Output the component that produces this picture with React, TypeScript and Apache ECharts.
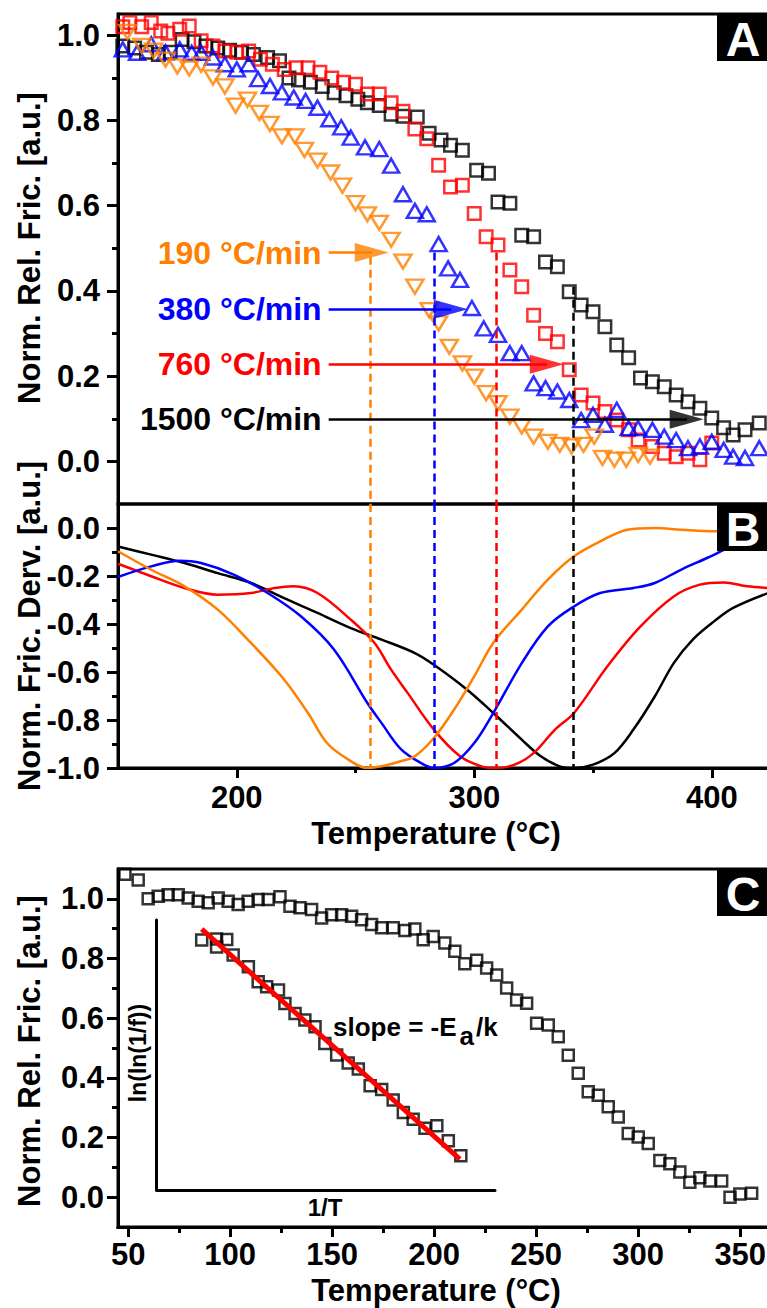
import React, { useEffect, useRef } from "react";
import * as echarts from "echarts";

const FONT = '"Liberation Sans", Arial, Helvetica, sans-serif';

// ---------- Panel A: normalized relative friction vs temperature ----------
const tA1500 = [152,157,162,167,172,177,182,187,192,197,202,207,213,218,222,226,231,236,241,246,251,255,260,265,270,276,281,286,290,295,301,306,310,315,320,325,330,335,340,345,350,355,360,365,370,375,380,385,390,395,400,405,409,414,420];
const vA1500 = [0.975,0.97,0.96,0.955,0.96,0.99,0.985,0.975,0.97,0.965,0.96,0.955,0.948,0.94,0.9,0.895,0.89,0.88,0.865,0.858,0.85,0.842,0.835,0.815,0.81,0.808,0.77,0.754,0.742,0.73,0.683,0.676,0.609,0.606,0.531,0.527,0.468,0.457,0.398,0.367,0.351,0.316,0.273,0.243,0.196,0.187,0.175,0.156,0.14,0.125,0.102,0.079,0.062,0.074,0.09];

const tA760 = [152,155,160,164,168,171,176,180,185,190,195,200,205,210,215,220,225,230,235,240,245,250,255,260,265,270,275,280,285,290,295,300,305,310,315,320,325,330,335,340,345,350,355,360,365,369,375,380,385,390,395,400];
const vA760 = [1.02,1.03,1.02,1.03,1.01,1.005,1.014,1.022,0.987,0.975,0.963,0.96,0.963,0.944,0.932,0.92,0.924,0.924,0.913,0.9,0.89,0.885,0.862,0.862,0.842,0.822,0.78,0.757,0.695,0.644,0.648,0.582,0.527,0.508,0.449,0.41,0.343,0.3,0.281,0.215,0.156,0.137,0.117,0.097,0.074,0.05,0.035,0.019,0.011,0.019,0.004,0.043];

const tA380 = [152,158,164,170,176,181,185,190,195,200,205,209,214,219,224,229,234,239,244,248,254,260,265,270,275,280,285,289,294,299,304,310,315,320,325,330,335,340,345,350,355,360,365,369,375,380,385,390,395,400,405,409,414,420];
const vA380 = [0.967,0.959,0.979,0.96,0.967,0.959,0.959,0.948,0.932,0.92,0.932,0.897,0.881,0.866,0.854,0.846,0.83,0.803,0.784,0.76,0.737,0.733,0.694,0.627,0.588,0.58,0.51,0.453,0.426,0.36,0.312,0.297,0.254,0.254,0.183,0.172,0.164,0.144,0.097,0.109,0.086,0.121,0.078,0.078,0.074,0.058,0.05,0.031,0.035,0.046,0.027,0.011,0.008,0.031];

const tA190 = [154,160,165,170,175,180,185,190,195,199.5,204.5,209.5,214,219,224.5,228.5,234,239.5,244.5,250,255,260,265,270,275,281,285,289.5,295,300,305,310,315,320,325,331,336,341,346,350.5,354,359,364,369,374];
const vA190 = [1.008,0.975,0.964,0.943,0.927,0.922,0.931,0.901,0.88,0.835,0.849,0.818,0.792,0.763,0.763,0.731,0.706,0.678,0.647,0.606,0.58,0.56,0.52,0.469,0.41,0.355,0.324,0.269,0.23,0.199,0.16,0.137,0.105,0.082,0.058,0.046,0.039,0.035,0.039,0.058,0.008,0.004,0.004,0.015,0.011];

// annotations (rates, arrows, dashed markers of the derivative minima)
const rateLabels = ["190 °C/min", "380 °C/min", "760 °C/min", "1500 °C/min"];
const rateColors = ["#FF8000", "#0000FF", "#FF0000", "#000000"];
const arrowStartT = 238.7;
const arrowTipT = [264, 297.3, 337.7, 396.6];
const arrowV = [0.49, 0.357, 0.228, 0.099];
const dashT = [256.1, 283.1, 309.2, 341.8];
const dashTopA = [0.48, 0.49, 0.49, 0.41];

// ---------- Panel B: normalized friction derivative ----------
const tB190 = [150,164,178,192,206,220,230,238,247,255,261,269,275,283,291.5,300,308,320,331,342,353,364.5,376,387,401,410];
const vB190 = [-0.097,-0.174,-0.243,-0.34,-0.479,-0.632,-0.771,-0.896,-0.965,-1.0,-0.993,-0.972,-0.951,-0.875,-0.757,-0.618,-0.479,-0.34,-0.215,-0.118,-0.056,-0.007,0.0,-0.007,-0.014,-0.014];
const tB380 = [150,164,176,185,199,213,227,241,255,261,269,277.5,283,291.5,300,308,320,331,342,353,367,376,387,398,407,424];
const vB380 = [-0.204,-0.16,-0.136,-0.146,-0.195,-0.271,-0.368,-0.507,-0.729,-0.813,-0.92,-0.979,-1.0,-0.979,-0.896,-0.771,-0.563,-0.41,-0.327,-0.271,-0.25,-0.229,-0.174,-0.125,-0.083,-0.01];
const tB760 = [150,164,178,192,206,216,224,234,248,258,265,272,283,294,303,309,317,325,334,342,356,370,384,395,405,415,424];
const vB760 = [-0.149,-0.201,-0.25,-0.278,-0.271,-0.25,-0.243,-0.271,-0.382,-0.479,-0.59,-0.688,-0.84,-0.951,-0.993,-1.0,-0.986,-0.938,-0.84,-0.771,-0.577,-0.41,-0.285,-0.236,-0.227,-0.243,-0.25];
const tB1500 = [150,164,178,192,206,220,234,248,261,275,283,297,308,320,328,336,342,350,359,367,376,384,392,401,409,424];
const vB1500 = [-0.077,-0.111,-0.146,-0.188,-0.229,-0.292,-0.354,-0.417,-0.465,-0.521,-0.57,-0.674,-0.771,-0.882,-0.951,-0.993,-1.0,-0.986,-0.938,-0.84,-0.702,-0.563,-0.465,-0.389,-0.333,-0.27];

// ---------- Panel C ----------
const tC = [48.4,54.9,59.8,64.7,69.6,74.5,79.4,84.3,89.2,94.1,99,103.9,108.8,113.7,118.6,124.4,129.3,134.2,139.9,144.8,149.7,154.6,159.5,164.4,169.3,174.2,179.9,185.6,190.5,194.6,199.5,205.2,210.1,215,220.8,225.7,230.6,235.5,240.4,245.3,250.2,255.9,260.8,265.7,270.6,275.5,280.4,285.3,290.2,295.1,300,304.9,310.6,315.5,320.4,325.3,330.2,335.1,340.9,345,349.8,355.6];
const vC = [1.082,1.063,1.0,1.009,1.014,1.014,1.003,0.992,0.987,1.003,0.992,0.981,0.992,0.998,0.998,1.007,0.975,0.97,0.964,0.936,0.947,0.947,0.942,0.93,0.914,0.903,0.903,0.894,0.899,0.863,0.874,0.852,0.824,0.782,0.794,0.768,0.745,0.701,0.661,0.65,0.583,0.577,0.538,0.476,0.415,0.353,0.342,0.303,0.269,0.213,0.202,0.18,0.123,0.112,0.084,0.05,0.065,0.054,0.054,0.0,0.011,0.013];

// inset (arbitrary units: 1/T vs ln(ln(1/f)))
const xInset = [1.33,1.77,2.07,1.77,2.26,2.71,3.0,3.25,3.6,3.79,4.09,4.38,4.68,4.97,5.32,5.66,5.96,6.31,6.65,6.99,7.29,7.58,7.93,8.28,8.62,8.99];
const yInset = [9.26,9.3,9.28,9.0,8.7,8.27,7.71,7.53,7.41,6.91,6.54,6.3,6.05,5.43,5.0,4.7,4.48,3.86,3.72,3.33,2.87,2.62,2.29,2.38,1.82,1.27];
const fitX = [1.33, 8.96];
const fitY = [9.66, 1.14];

// ---------- ticks ----------
const xMajorAB = [200, 300, 400];
const xMinorAB = [250, 350];
const yMajorA = [0, 0.2, 0.4, 0.6, 0.8, 1.0];
const yMinorA = [0.1, 0.3, 0.5, 0.7, 0.9];
const yMajorB = [-1.0, -0.8, -0.6, -0.4, -0.2, 0.0];
const yMinorB = [-0.9, -0.7, -0.5, -0.3, -0.1];
const xMajorC = [50, 100, 150, 200, 250, 300, 350];
const xMinorC = [75, 125, 175, 225, 275, 325];
const yMajorC = [0, 0.2, 0.4, 0.6, 0.8, 1.0];
const yMinorC = [0.1, 0.3, 0.5, 0.7, 0.9];

const zip = (xs: number[], ys: number[]) => xs.map((x, i) => [x, ys[i]]);

export default function App() {
  const ref = useRef<HTMLDivElement>(null);

  useEffect(() => {
    const chart = echarts.init(ref.current!, null, { renderer: "svg" });

    const labelStyle = { fontFamily: FONT, fontSize: 31, fontWeight: "bold" as const, color: "#000" };
    const fmtY = (v: number) => v.toFixed(1);
    const fmtX = (v: number) => String(Math.round(v));

    const tickAxis = (
      gridIndex: number, min: number, max: number, position: string,
      ticks: number[], len: number, labels?: number[], margin?: number, fmt?: (v: number) => string
    ) => ({
      type: "value", gridIndex, min, max, position,
      splitLine: { show: false },
      axisLine: { show: true, onZero: false, lineStyle: { color: "#000", width: 3 } },
      axisTick: { show: true, inside: false, length: len, customValues: ticks, lineStyle: { color: "#000", width: 3 } },
      axisLabel: labels
        ? { show: true, customValues: labels, margin, formatter: fmt, ...labelStyle }
        : { show: false },
    });

    const xAB: [number, number] = [150, 424.1];
    const xCr: [number, number] = [45, 364.1];

    const hollow = (color: string, symbol: string, size: any, rotate = 0) => ({
      type: "scatter", symbol, symbolSize: size, symbolRotate: rotate,
      itemStyle: { color: "rgba(0,0,0,0)", borderColor: color, borderWidth: 2.5 },
      xAxisIndex: 0, yAxisIndex: 1, silent: true,
    });

    const markA: any[] = [];
    const markB: any[] = [];
    for (let i = 0; i < 4; i++) {
      markA.push([
        { coord: [dashT[i], dashTopA[i]], lineStyle: { color: rateColors[i], width: 2.5, type: [8, 5] }, label: { show: false } },
        { coord: [dashT[i], -0.1] },
      ]);
      markA.push([
        {
          coord: [arrowStartT, arrowV[i]],
          lineStyle: { color: rateColors[i], width: 2.5, type: "solid" },
          label: {
            show: true, position: "start", distance: 7, formatter: rateLabels[i],
            color: rateColors[i], fontFamily: FONT, fontSize: 32, fontWeight: "bold",
          },
        },
        { coord: [arrowTipT[i] - 7, arrowV[i]] },
      ]);
      markB.push([
        { coord: [dashT[i], 0.1], lineStyle: { color: rateColors[i], width: 2.5, type: [8, 5] }, label: { show: false } },
        { coord: [dashT[i], -1.0] },
      ]);
    }

    const bLine = (t: number[], v: number[], color: string, extra: any = {}) => ({
      type: "line", xAxisIndex: 2, yAxisIndex: 3, data: zip(t, v), smooth: 0.35,
      symbol: "none", lineStyle: { color, width: 2.5 }, itemStyle: { color }, silent: true, ...extra,
    });

    const titleFont = `bold 31px ${FONT}`;
    const textEl = (text: string, x: number, y: number, font: string, rotation = 0, fill = "#000", align = "center") => ({
      type: "text", x, y, rotation, silent: true, z: 100,
      style: { text, font, fill, textAlign: align, textVerticalAlign: "middle", align, verticalAlign: "middle" },
    });
    const panelLabel = (letter: string, top: number) => [
      { type: "rect", shape: { x: 717, y: top, width: 60, height: 46 }, style: { fill: "#000" }, z: 90, silent: true },
      textEl(letter, 743, top + 24, `bold 48px ${FONT}`, 0, "#fff"),
    ];

    const option: any = {
      animation: false,
      backgroundColor: "#fff",
      grid: [
        { left: 118, top: 14, width: 651, height: 490, show: true, borderColor: "#000", borderWidth: 3 },
        { left: 118, top: 504, width: 651, height: 264, show: true, borderColor: "#000", borderWidth: 3 },
        { left: 118, top: 869, width: 651, height: 358, show: true, borderColor: "#000", borderWidth: 3 },
        { left: 156.7, top: 920, width: 338.3, height: 270, show: false },
      ],
      xAxis: [
        { type: "value", gridIndex: 0, min: xAB[0], max: xAB[1], show: false },
        tickAxis(1, xAB[0], xAB[1], "bottom", xMinorAB, 5),
        tickAxis(1, xAB[0], xAB[1], "bottom", xMajorAB, 10, xMajorAB, 14, fmtX),
        tickAxis(2, xCr[0], xCr[1], "bottom", xMinorC, 6),
        tickAxis(2, xCr[0], xCr[1], "bottom", xMajorC, 10, xMajorC, 12, fmtX),
        {
          type: "value", gridIndex: 3, min: 0, max: 10, position: "bottom",
          splitLine: { show: false }, axisTick: { show: false }, axisLabel: { show: false },
          axisLine: { show: true, onZero: false, lineStyle: { color: "#000", width: 3 } },
        },
      ],
      yAxis: [
        tickAxis(0, -0.1, 1.05, "left", yMinorA, 6),
        tickAxis(0, -0.1, 1.05, "left", yMajorA, 11, yMajorA, 18, fmtY),
        tickAxis(1, -1.0, 0.1, "left", yMinorB, 6),
        tickAxis(1, -1.0, 0.1, "left", yMajorB, 11, yMajorB, 18, fmtY),
        tickAxis(2, -0.1, 1.1, "left", yMinorC, 6),
        tickAxis(2, -0.1, 1.1, "left", yMajorC, 11, yMajorC, 14, fmtY),
        {
          type: "value", gridIndex: 3, min: 0, max: 10, position: "left",
          splitLine: { show: false }, axisTick: { show: false }, axisLabel: { show: false },
          axisLine: { show: true, onZero: false, lineStyle: { color: "#000", width: 3 } },
        },
      ],
      series: [
        { ...hollow("#000000", "rect", 12.5), data: zip(tA1500, vA1500) },
        { ...hollow("#FF0000", "rect", 12.5), data: zip(tA760, vA760) },
        { ...hollow("#0000FF", "triangle", [16, 14]), data: zip(tA380, vA380) },
        { ...hollow("#FF8000", "triangle", [17, 14], 180), data: zip(tA190, vA190) },
        {
          type: "scatter", xAxisIndex: 0, yAxisIndex: 1, silent: true, z: 5,
          symbol: "triangle", symbolSize: [19, 34], symbolRotate: -90, symbolOffset: [-17, 0],
          data: arrowTipT.map((t, i) => ({ value: [t, arrowV[i]], itemStyle: { color: rateColors[i] } })),
          markLine: { silent: true, symbol: ["none", "none"], animation: false, data: markA },
        },
        bLine(tB1500, vB1500, "#000000"),
        bLine(tB760, vB760, "#FF0000"),
        bLine(tB380, vB380, "#0000FF"),
        bLine(tB190, vB190, "#FF8000", {
          markLine: { silent: true, symbol: ["none", "none"], animation: false, data: markB },
        }),
        {
          type: "scatter", xAxisIndex: 4, yAxisIndex: 5, symbol: "rect", symbolSize: 11, silent: true,
          itemStyle: { color: "rgba(0,0,0,0)", borderColor: "#000", borderWidth: 2.5 },
          data: zip(tC, vC),
        },
        {
          type: "scatter", xAxisIndex: 5, yAxisIndex: 6, symbol: "rect", symbolSize: 11, silent: true,
          itemStyle: { color: "rgba(0,0,0,0)", borderColor: "#000", borderWidth: 2.5 },
          data: zip(xInset, yInset),
        },
        {
          type: "line", xAxisIndex: 5, yAxisIndex: 6, symbol: "none", silent: true, z: 4,
          lineStyle: { color: "#FF0000", width: 5 }, data: zip(fitX, fitY),
        },
      ],
      graphic: [
        ...panelLabel("A", 15),
        ...panelLabel("B", 505),
        ...panelLabel("C", 870),
        textEl("Norm. Rel. Fric. [a.u.]", 29, 248, titleFont, Math.PI / 2),
        textEl("Norm. Fric. Derv. [a.u.]", 29, 626, titleFont, Math.PI / 2),
        textEl("Temperature (°C)", 436, 833, titleFont),
        textEl("Norm. Rel. Fric. [a.u.]", 29, 1051, titleFont, Math.PI / 2),
        textEl("Temperature (°C)", 436, 1290, titleFont),
        textEl("ln(ln(1/f))", 138, 1053, `bold 23px ${FONT}`, Math.PI / 2),
        textEl("1/T", 325, 1207, `bold 24px ${FONT}`),
        {
          type: "text", x: 333, y: 1028, silent: true, z: 100,
          style: {
            text: "{n|slope = -E}{s|a}{n|/k}",
            fill: "#000", font: `bold 26px ${FONT}`,
            textAlign: "left", textVerticalAlign: "middle", align: "left", verticalAlign: "middle",
            rich: {
              n: { fontFamily: FONT, fontSize: 26, fontWeight: "bold", fill: "#000", color: "#000", lineHeight: 29, verticalAlign: "top" },
              s: { fontFamily: FONT, fontSize: 26, fontWeight: "bold", fill: "#000", color: "#000", lineHeight: 29, padding: [9, 2, 0, 3], verticalAlign: "top" },
            },
          },
        },
      ],
    };

    chart.setOption(option);
    return () => chart.dispose();
  }, []);

  return (
    <div style={{ position: "absolute", left: 0, top: 0, width: 767, height: 1308, overflow: "hidden", background: "#fff" }}>
      <div ref={ref} style={{ width: 775, height: 1308 }} />
    </div>
  );
}
